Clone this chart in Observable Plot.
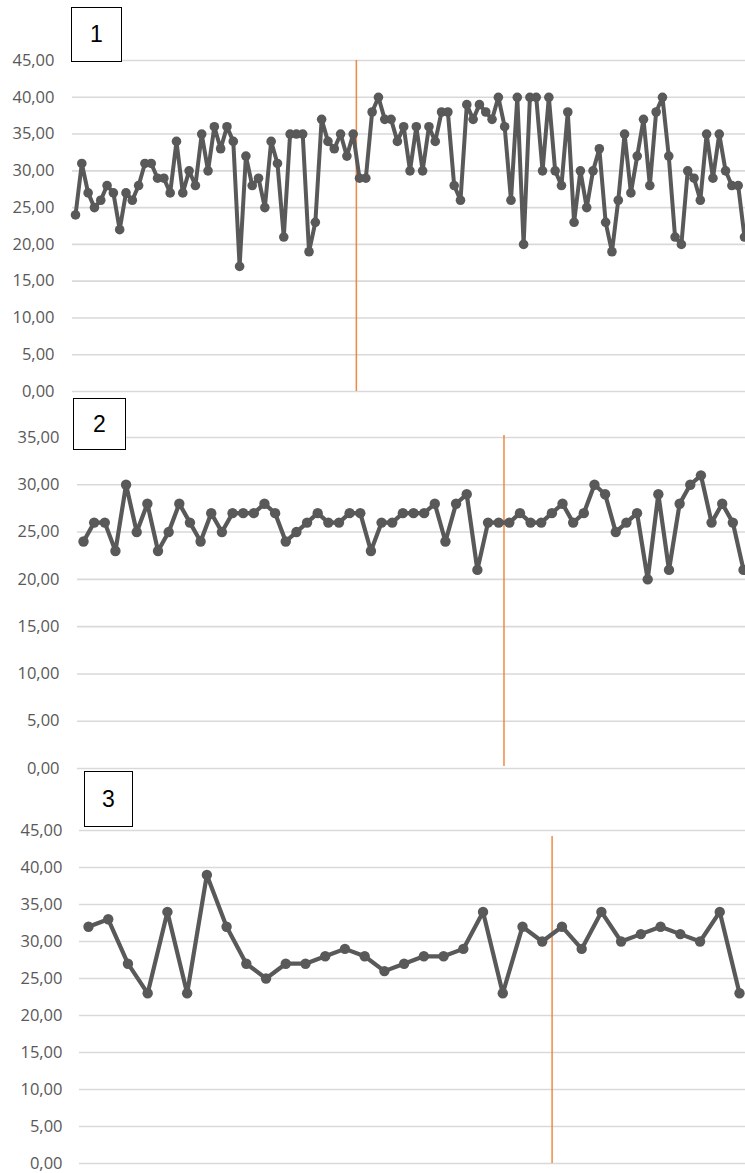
<!DOCTYPE html>
<html><head><meta charset="utf-8">
<script src="https://cdn.jsdelivr.net/npm/d3@7"></script>
<script src="https://cdn.jsdelivr.net/npm/@observablehq/plot@0.6"></script>
<style>
html,body{margin:0;padding:0;background:#fff;}
#wrap{position:relative;width:745px;height:1173px;overflow:hidden;background:#fff;}
.panel{position:absolute;left:0;overflow:visible;}
.tag{position:absolute;background:#fff;border:1.5px solid #000;box-sizing:border-box;font-family:"Liberation Sans",Arial,sans-serif;font-size:23px;color:#000;display:flex;align-items:center;justify-content:center;}
</style></head><body><div id="wrap"></div>
<script>
// ---- data ----
const panelLabels = ["1", "2", "3"];
const series1 = [24,31,27,25,26,28,27,22,27,26,28,31,31,29,29,27,34,27,30,28,35,30,36,33,36,34,17,32,
  28,29,25,34,31,21,35,35,35,19,23,37,34,33,35,32,35,29,29,38,40,37,37,34,36,30,36,30,36,34,38,38,28,26,
  39,37,39,38,37,40,36,26,40,20,40,40,30,40,30,28,38,23,30,25,30,33,23,19,26,35,27,32,37,28,38,40,32,21,
  20,30,29,26,35,29,35,30,28,28,21];
const series2 = [24,26,26,23,30,25,28,23,25,28,26,24,27,25,27,27,27,28,27,24,25,26,27,26,26,27,27,23,
  26,26,27,27,27,28,24,28,29,21,26,26,26,27,26,26,27,28,26,27,30,29,25,26,27,20,29,21,28,30,31,26,28,26,21];
const series3 = [32,33,27,23,34,23,39,32,27,25,27,27,28,29,28,26,27,28,28,29,34,23,32,30,32,29,34,30,31,32,31,30,34,23];
const ticks1 = [0,5,10,15,20,25,30,35,40,45];
const ticks2 = [0,5,10,15,20,25,30,35];
const ticks3 = [0,5,10,15,20,25,30,35,40,45];
// position (in point index units) of the orange marker line in each panel
const markers = [44.5, 39.5, 23.5];

const fmt = d => d.toFixed(2).replace(".", ",");
const wrap = document.getElementById("wrap");

function panel(values, ticks, marker, o) {
  const data = values.map((v, i) => ({i, v}));
  const yMax = ticks[ticks.length - 1];
  const chart = Plot.plot({
    width: 745, height: o.height,
    marginTop: o.marginTop, marginBottom: o.marginBottom, marginLeft: o.marginLeft, marginRight: 0,
    style: {fontFamily: "'Open Sans', sans-serif", fontSize: "16.5px", color: "#595959", background: "transparent", overflow: "visible"},
    x: {axis: null, domain: [0, values.length - 1], insetLeft: o.insetLeft, insetRight: o.insetRight},
    y: {domain: [0, yMax], axis: null},
    marks: [
      Plot.gridY(ticks, {stroke: "#d9d9d9", strokeOpacity: 1, strokeWidth: 1.6}),
      Plot.axisY(ticks, {tickSize: 0, tickPadding: o.pad, tickFormat: fmt, fill: "#595959", label: null}),
      Plot.ruleX([marker], {x: d => d, y1: 0, y2: yMax, stroke: "#ED7D31", strokeWidth: 1.5, strokeOpacity: 0.9, insetTop: o.rTop || 0, insetBottom: o.rBottom || 0}),
      Plot.line(data, {x: "i", y: "v", stroke: "#595959", strokeWidth: o.sw, strokeLinejoin: "round"}),
      Plot.dot(data, {x: "i", y: "v", r: o.r, fill: "#595959"})
    ]
  });
  chart.classList.add("panel");
  chart.style.top = o.top + "px";
  wrap.appendChild(chart);
}

panel(series1, ticks1, markers[0], {top: 0, height: 396, marginTop: 60, marginBottom: 5, marginLeft: 72, insetLeft: 3, insetRight: 1, pad: 18, r: 4.8, sw: 4});
panel(series2, ticks2, markers[1], {top: 396, height: 376, marginTop: 41, marginBottom: 4, marginLeft: 77, insetLeft: 6, insetRight: 2, pad: 18, r: 5.2, sw: 4.2, rTop: -2, rBottom: 2});
panel(series3, ticks3, markers[2], {top: 772, height: 401, marginTop: 58, marginBottom: 10, marginLeft: 79, insetLeft: 9, insetRight: 6, pad: 17, r: 5.2, sw: 4.2, rBottom: -6});

const tagBoxes = [
  {left: 71, top: 7, w: 51, h: 55},
  {left: 73, top: 398, w: 53, h: 52},
  {left: 84, top: 771, w: 49, h: 56}
];
panelLabels.forEach((t, k) => {
  const b = tagBoxes[k];
  const d = document.createElement("div");
  d.className = "tag";
  d.textContent = t;
  Object.assign(d.style, {left: b.left + "px", top: b.top + "px", width: b.w + "px", height: b.h + "px"});
  wrap.appendChild(d);
});
</script></body></html>
